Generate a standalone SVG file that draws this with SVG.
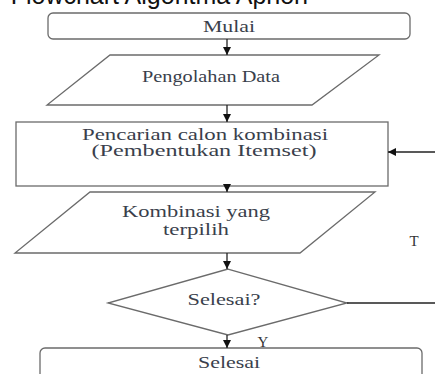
<svg xmlns="http://www.w3.org/2000/svg" width="435" height="374" viewBox="0 0 435 374">
<style>
.shape{fill:#fff;stroke:#6b6b6b;stroke-width:1.3}
.lbl{font-family:"Liberation Serif","Times New Roman",serif;font-size:16px;fill:#3a3f4c;text-anchor:middle}
.mark{font-family:"Liberation Serif","Times New Roman",serif;font-size:15px;fill:#333;text-anchor:middle}
.edge{stroke:#222;stroke-width:1.3;fill:none}
.title{font-family:"Liberation Sans",Arial,sans-serif;font-size:25px;fill:#111}
</style>
<defs>
<marker id="ah" viewBox="0 0 10 10" refX="10" refY="5" markerWidth="8" markerHeight="8" markerUnits="userSpaceOnUse" orient="auto">
<path d="M0,0 L10,5 L0,10 z" fill="#111"/>
</marker>
</defs>
<rect width="435" height="374" fill="#fff"/>
<text class="title" x="308" y="4" text-anchor="end">Flowchart Algoritma Apriori</text>

<g id="mulai">
<rect class="shape" x="48" y="13" width="362" height="26" rx="5"/>
<text class="lbl" x="229" y="32" textLength="52" lengthAdjust="spacingAndGlyphs">Mulai</text>
</g>
<g id="pengolahan">
<polygon class="shape" points="110,55 379,55 312,105 47,105"/>
<text class="lbl" x="211" y="82" textLength="138" lengthAdjust="spacingAndGlyphs">Pengolahan Data</text>
</g>
<g id="pencarian">
<rect class="shape" x="16" y="122" width="372" height="64"/>
<text class="lbl" x="205" y="140" textLength="246" lengthAdjust="spacingAndGlyphs">Pencarian calon kombinasi</text>
<text class="lbl" x="204" y="156" textLength="225" lengthAdjust="spacingAndGlyphs">(Pembentukan Itemset)</text>
</g>
<g id="kombinasi">
<polygon class="shape" points="90,192 375,192 300,253 15,253"/>
<text class="lbl" x="196" y="217" textLength="148" lengthAdjust="spacingAndGlyphs">Kombinasi yang</text>
<text class="lbl" x="196" y="235" textLength="66" lengthAdjust="spacingAndGlyphs">terpilih</text>
</g>
<g id="cek">
<polygon class="shape" points="228,269 347,303 228,335 108,303"/>
<text class="lbl" x="224" y="305" textLength="73" lengthAdjust="spacingAndGlyphs">Selesai?</text>
</g>
<g id="selesai">
<rect class="shape" x="40" y="348" width="382" height="34" rx="5"/>
<text class="lbl" x="229" y="368" textLength="62" lengthAdjust="spacingAndGlyphs">Selesai</text>
</g>

<g id="connectors">
<line class="edge" x1="227" y1="39" x2="227" y2="55" marker-end="url(#ah)"/>
<line class="edge" x1="227" y1="105" x2="227" y2="122" marker-end="url(#ah)"/>
<line class="edge" x1="227" y1="186" x2="227" y2="192" marker-end="url(#ah)"/>
<line class="edge" x1="227" y1="253" x2="227" y2="269" marker-end="url(#ah)"/>
<line class="edge" x1="227" y1="335" x2="227" y2="348" marker-end="url(#ah)"/>
<line class="edge" x1="347" y1="303" x2="435" y2="303"/>
<line class="edge" x1="435" y1="152" x2="388" y2="152" marker-end="url(#ah)"/>
<text class="mark" x="414" y="246">T</text>
<text class="mark" x="263" y="347">Y</text>
</g>
</svg>
